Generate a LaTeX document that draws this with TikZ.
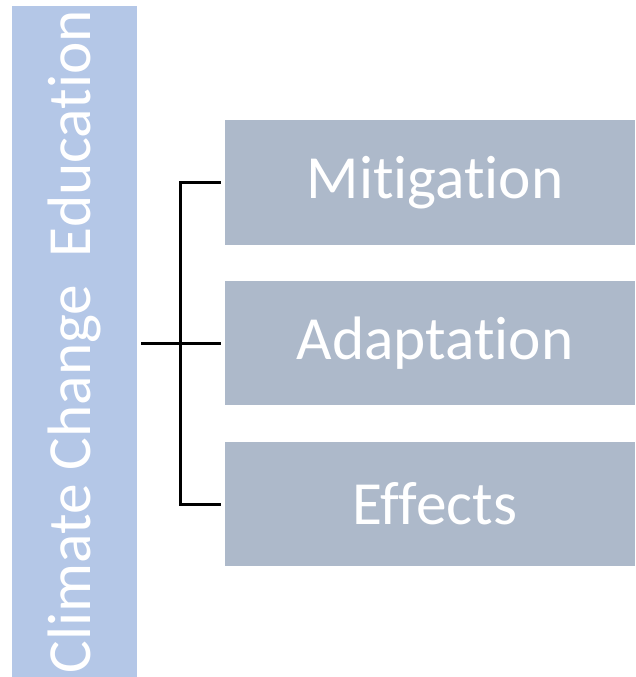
\documentclass[tikz,border=0pt]{standalone}
\usepackage{fontspec}
\setmainfont[Ligatures=NoCommon]{Carlito}
\usepackage{tikz}
\usetikzlibrary{positioning}

\definecolor{barblue}{HTML}{B4C7E7}
\definecolor{boxgray}{HTML}{ADB9CA}

\begin{document}
\begin{tikzpicture}[x=0.75pt, y=-0.75pt,
    topic/.style={fill=barblue, text=white, inner sep=0pt, rotate=90,
        minimum width=671*0.75pt, minimum height=125*0.75pt,
        font=\fontsize{46}{52}\selectfont},
    part/.style={fill=boxgray, inner sep=0pt,
        minimum width=410*0.75pt, minimum height=124*0.75pt},
    label/.style={text=white, font=\fontsize{46}{52}\selectfont},
    conn/.style={black, line width=2.25pt, shorten <=3pt, shorten >=3pt}]

\useasboundingbox ( 0, 0 ) rectangle ( 635, 677 );

% Topic bar
\node [topic] (cce) at ( 74.5, 341.5 ) {Climate Change\ \ Education};

% Parts
\node [part] (mit) at ( 430, 182.5 ) {};
\node [part] (ada) at ( 430, 343 ) {};
\node [part] (eff) at ( 430, 504 ) {};

\node [label] (mittext) at ( 435, 182.5 ) {Mitigation};
\node [label] (adatext) at ( 435, 343 ) {Adaptation};
\node [label] (efftext) at ( 435, 504 ) {Effects};

% Connectors
\coordinate (spine) at ( 180, 343 );
\draw [conn] (cce.south |- ada.west) -- (ada.west);
\draw [conn] (mit.west) -| (spine) |- (eff.west);

\end{tikzpicture}
\end{document}
